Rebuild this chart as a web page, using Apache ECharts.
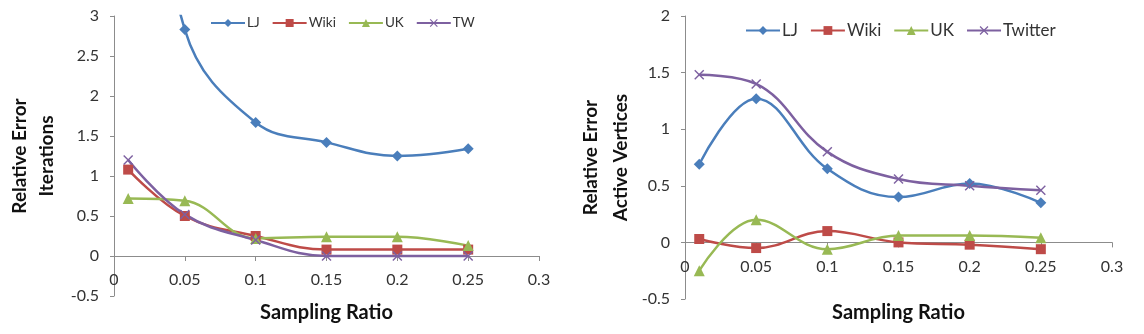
<!DOCTYPE html>
<html>
<head>
<meta charset="utf-8">
<script src="https://cdn.jsdelivr.net/npm/echarts@6/dist/echarts.min.js"></script>
<style>
  html, body { margin: 0; padding: 0; background: #fff; }
  #chart { width: 1144px; height: 334px; }
</style>
</head>
<body>
<div id="chart"></div>
<script>
// sampling ratios (x)
const ratios = [0.01, 0.05, 0.1, 0.15, 0.2, 0.25];

// left panel: relative error of iterations
const iterLJ = [7.0, 2.83, 1.67, 1.42, 1.25, 1.34];
const iterWiki = [1.08, 0.5, 0.25, 0.08, 0.08, 0.08];
const iterUK = [0.72, 0.69, 0.22, 0.24, 0.24, 0.13];
const iterTW = [1.2, 0.52, 0.2, 0.0, 0.0, 0.0];

// right panel: relative error of active vertices
const actLJ = [0.69, 1.27, 0.65, 0.4, 0.52, 0.35];
const actWiki = [0.03, -0.05, 0.1, 0.0, -0.02, -0.06];
const actUK = [-0.25, 0.2, -0.06, 0.06, 0.06, 0.04];
const actTwitter = [1.48, 1.4, 0.8, 0.56, 0.5, 0.46];

const leftNames = ['LJ', 'Wiki', 'UK', 'TW'];
const rightNames = ['LJ', 'Wiki', 'UK', 'Twitter'];

const FONT = 'Lato';
const W = 1144, H = 334;
const colors = { LJ: '#4A7EBB', Wiki: '#BE4B48', UK: '#98B954', TW: '#7D60A0', Twitter: '#7D60A0' };
const crossPath = 'path://M0,1 L1,0 L5,4 L9,0 L10,1 L6,5 L10,9 L9,10 L5,6 L1,10 L0,9 L4,5 Z';
const symbols = { LJ: 'diamond', Wiki: 'rect', UK: 'triangle', TW: crossPath, Twitter: crossPath };
const symbolSizes = { LJ: 11, Wiki: 10, UK: 11, TW: 10, Twitter: 10 };

// plot areas in pixels
const grids = [
  { left: 114, right: W - 539, top: 16, bottom: H - 296 },
  { left: 685, right: W - 1112, top: 16, bottom: H - 299 }
];
const yRanges = [[-0.5, 3], [-0.5, 2]];

function pairs(ys) {
  return ratios.map((x, i) => [x, ys[i]]);
}

function makeSeries(name, ys, idx) {
  return {
    name: name,
    type: 'line',
    xAxisIndex: idx,
    yAxisIndex: idx,
    data: pairs(ys),
    smooth: 0.4,
    symbol: symbols[name],
    symbolSize: symbolSizes[name],
    showAllSymbol: true,
    clip: true,
    lineStyle: { color: colors[name], width: 2.5 },
    itemStyle: { color: colors[name] },
    emphasis: { disabled: true },
    z: 3
  };
}

const axisLineStyle = { color: '#8C8C8C', width: 1 };

// x axis sits on y = 0: shift it up from the grid bottom
function zeroOffset(idx) {
  const g = grids[idx];
  const h = H - g.top - g.bottom;
  const r = yRanges[idx];
  return -h * (0 - r[0]) / (r[1] - r[0]);
}

function xAxisCfg(idx, gap) {
  return {
    type: 'value',
    gridIndex: idx,
    position: 'bottom',
    offset: zeroOffset(idx),
    min: 0,
    max: 0.3,
    interval: 0.05,
    name: 'Sampling Ratio',
    nameLocation: 'middle',
    nameGap: gap,
    nameTextStyle: { fontFamily: FONT, fontSize: 20, fontWeight: 'bold', color: '#111' },
    axisLine: { onZero: false, lineStyle: axisLineStyle },
    axisTick: { show: true, length: 5, lineStyle: axisLineStyle },
    axisLabel: { fontFamily: FONT, fontSize: 16, color: '#333', margin: 16 },
    splitLine: { show: false }
  };
}

function yAxisCfg(idx, name, gap, lh) {
  return {
    type: 'value',
    gridIndex: idx,
    min: yRanges[idx][0],
    max: yRanges[idx][1],
    interval: 0.5,
    name: name,
    nameLocation: 'middle',
    nameGap: gap,
    nameTextStyle: { fontFamily: FONT, fontSize: 19, fontWeight: 'bold', color: '#111', lineHeight: lh },
    axisLine: { show: true, onZero: false, lineStyle: axisLineStyle },
    axisTick: { show: true, length: 4, lineStyle: axisLineStyle },
    axisLabel: { fontFamily: FONT, fontSize: 16, color: '#333', margin: 15 },
    splitLine: { show: false }
  };
}

const option = {
  animation: false,
  backgroundColor: '#fff',
  legend: [
    {
      data: leftNames,
      left: 210,
      top: 16,
      padding: 0,
      itemWidth: 34,
      itemHeight: 10,
      itemGap: 12,
      textStyle: { fontFamily: FONT, fontSize: 13.5, color: '#333', padding: [0, 0, 0, -3] },
      selectedMode: false
    },
    {
      data: rightNames,
      left: 745,
      top: 22,
      padding: 0,
      itemWidth: 34,
      itemHeight: 11,
      itemGap: 12,
      textStyle: { fontFamily: FONT, fontSize: 17, color: '#333', padding: [0, 0, 0, -3] },
      selectedMode: false
    }
  ],
  grid: grids.map(g => Object.assign({ outerBoundsMode: 'none', containLabel: false }, g)),
  xAxis: [xAxisCfg(0, 47), xAxisCfg(1, 60)],
  yAxis: [
    yAxisCfg(0, 'Relative Error\nIterations', 54, 27),
    yAxisCfg(1, 'Relative Error\nActive Vertices', 49, 30)
  ],
  series: [
    makeSeries('LJ', iterLJ, 0),
    makeSeries('Wiki', iterWiki, 0),
    makeSeries('UK', iterUK, 0),
    makeSeries('TW', iterTW, 0),
    makeSeries('LJ', actLJ, 1),
    makeSeries('Wiki', actWiki, 1),
    makeSeries('UK', actUK, 1),
    makeSeries('Twitter', actTwitter, 1)
  ]
};

const myChart = echarts.init(document.getElementById('chart'));
myChart.setOption(option);
</script>
</body>
</html>
